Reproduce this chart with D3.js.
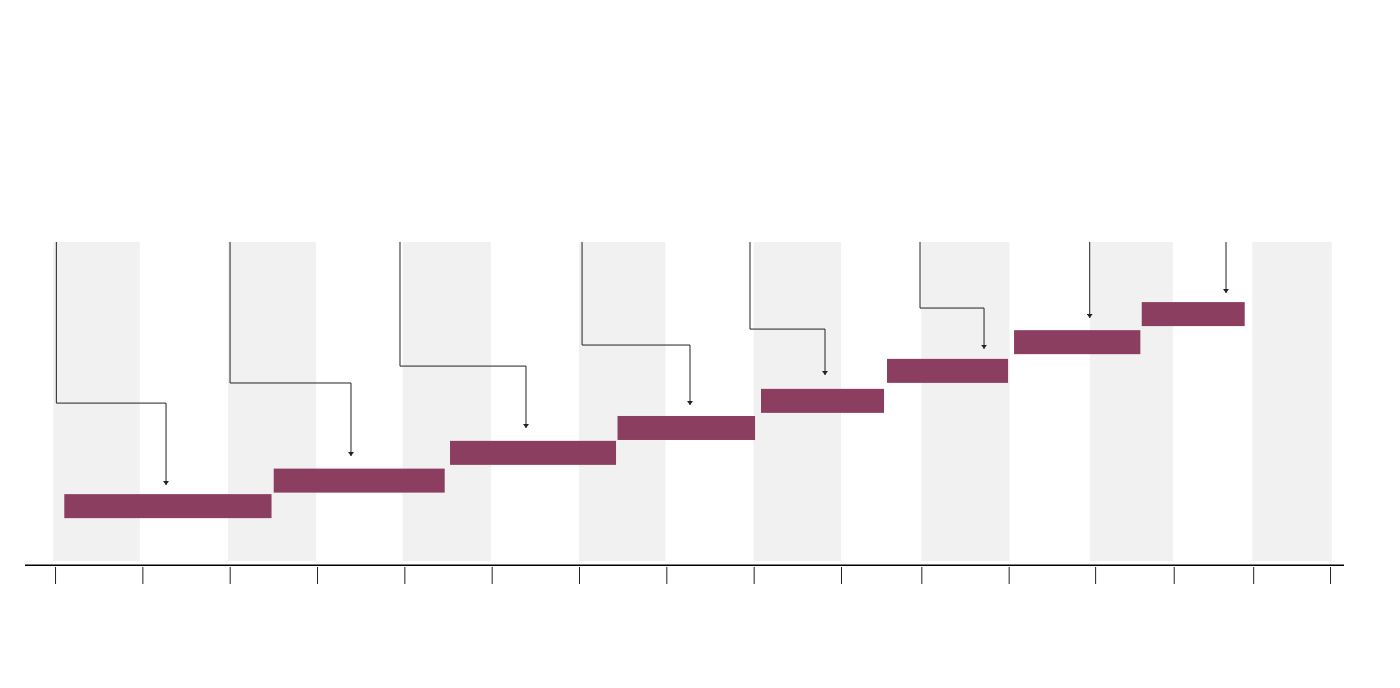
<!DOCTYPE html>
<html>
<head>
<meta charset="utf-8">
<script src="https://cdn.jsdelivr.net/npm/d3@7"></script>
<style>
  html, body { margin: 0; padding: 0; background: #ffffff; }
  svg { display: block; }
</style>
</head>
<body>
<svg id="chart" width="1400" height="688"></svg>
<script>
// ---- data (arbitrary timeline units) ----
const tickValues = [0, 10, 20, 30, 40, 50, 60, 70, 80, 90, 99.2, 109.2, 119.1, 128.1, 137.2, 146.0];
const bandStarts = [-0.2, 19.8, 39.8, 60.0, 80.0, 99.2, 118.5, 137.1];
const bandEnds   = [9.7, 29.9, 49.9, 69.9, 90.0, 109.3, 128.0, 146.2];

const barStarts  = [1.06, 25.04, 45.23, 64.41, 80.84, 95.27, 109.82, 124.44];
const barEnds    = [24.79, 44.62, 64.24, 80.16, 94.93, 109.13, 124.28, 136.23];
const barLevels  = [17.2, 25.2, 33.9, 41.7, 50.2, 59.6, 68.6, 77.4];

const linkFromX  = [0.15, 20.04, 39.5, 60.35, 79.58, 99.05, 118.48, 134.09];
const linkToX    = [12.71, 33.89, 53.93, 72.71, 88.17, 106.38, 118.48, 134.09];
const linkElbow  = [49.5, 55.8, 61.1, 67.7, 72.7, 79.3, null, null];
const linkEnd    = [23.8, 32.9, 41.7, 48.9, 58.3, 66.5, 76.2, 84.0];

// ---- layout ----
const svg = d3.select("#chart");
const x = d3.scaleLinear().domain([-3.44, 147.6]).range([25, 1344]);
const y = d3.scaleLinear().domain([0, 100]).range([561, 242]);
const barH = 24;

// background bands
svg.append("g").selectAll("rect")
  .data(bandStarts.map((s, i) => ({ s, e: bandEnds[i] })))
  .join("rect")
  .attr("x", d => x(d.s))
  .attr("width", d => x(d.e) - x(d.s))
  .attr("y", y(100))
  .attr("height", y(0) - y(100))
  .attr("fill", "#f1f1f1");

// arrow marker
svg.append("defs").append("marker")
  .attr("id", "arrow")
  .attr("viewBox", "0 0 6 4")
  .attr("refX", 3).attr("refY", 4)
  .attr("markerWidth", 6).attr("markerHeight", 4)
  .attr("markerUnits", "userSpaceOnUse")
  .attr("orient", "0")
  .append("path")
  .attr("d", "M0,0 L6,0 L3,4 Z")
  .attr("fill", "#222");

// connector lines
const links = linkFromX.map((fx, i) => ({
  fx, tx: linkToX[i], elbow: linkElbow[i], end: linkEnd[i]
}));
svg.append("g").selectAll("path")
  .data(links)
  .join("path")
  .attr("d", d => {
    const p = d3.path();
    p.moveTo(x(d.fx), y(100));
    if (d.elbow !== null) {
      p.lineTo(x(d.fx), y(d.elbow));
      p.lineTo(x(d.tx), y(d.elbow));
    }
    p.lineTo(x(d.tx), y(d.end));
    return p.toString();
  })
  .attr("fill", "none")
  .attr("stroke", "#222")
  .attr("stroke-width", 1)
  .attr("marker-end", "url(#arrow)");

// bars
svg.append("g").selectAll("rect")
  .data(barStarts.map((s, i) => ({ s, e: barEnds[i], v: barLevels[i] })))
  .join("rect")
  .attr("x", d => x(d.s))
  .attr("width", d => x(d.e) - x(d.s))
  .attr("y", d => y(d.v) - barH / 2)
  .attr("height", barH)
  .attr("fill", "#8b3e60");

// axis line
svg.append("line")
  .attr("x1", x.range()[0]).attr("x2", x.range()[1])
  .attr("y1", 565.25).attr("y2", 565.25)
  .attr("stroke", "#000").attr("stroke-width", 1.5);

// ticks
const axis = d3.axisBottom(x).tickValues(tickValues).tickSize(17).tickFormat("");
const ag = svg.append("g").attr("transform", "translate(0,567)").call(axis);
ag.select(".domain").remove();
ag.selectAll(".tick line").attr("stroke", "#222");
</script>
</body>
</html>
